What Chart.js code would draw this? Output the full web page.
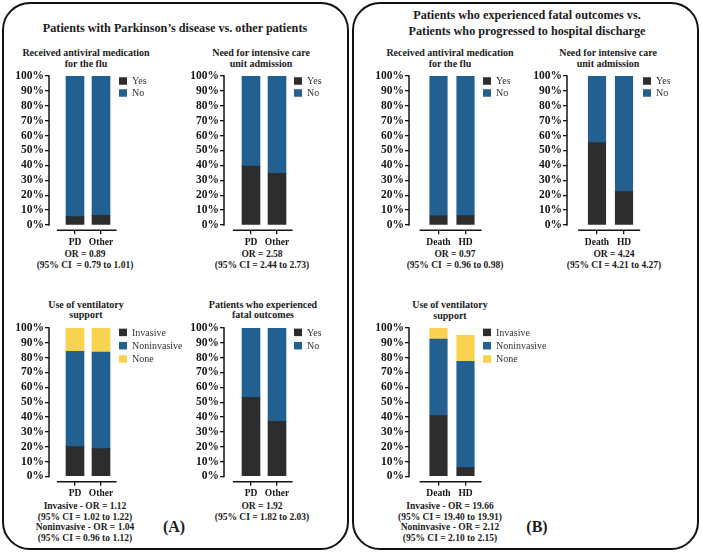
<!DOCTYPE html>
<html><head><meta charset="utf-8">
<script src="https://cdn.jsdelivr.net/npm/chart.js@4.4.1/dist/chart.umd.min.js"></script>
<style>
html,body{margin:0;padding:0;background:#fff;}
#root{position:relative;width:702px;height:554px;overflow:hidden;font-family:'Liberation Serif','Times New Roman',serif;color:#1c1c1c;}
.panel{position:absolute;border:2px solid #111;border-radius:28px;box-sizing:border-box;}
.t{position:absolute;transform:translate(-50%,-50%);white-space:nowrap;font-weight:bold;line-height:1;}
.h{font-size:12.2px;}
.s{font-size:10px;}
.o{font-size:9.5px;}
.p{font-size:16px;}
canvas{position:absolute;}
</style></head>
<body><div id="root">
<div class="panel" style="left:2px;top:2px;width:347px;height:548px"></div>
<div class="panel" style="left:352px;top:2px;width:347px;height:548px"></div>

<div class="t h" style="left:175px;top:28px">Patients with Parkinson’s disease vs. other patients</div>
<div class="t h" style="left:527px;top:15px">Patients who experienced fatal outcomes vs.</div>
<div class="t h" style="left:527px;top:31px">Patients who progressed to hospital discharge</div>

<div class="t s" style="left:86px;top:53px">Received antiviral medication</div>
<div class="t s" style="left:86px;top:63.5px">for the flu</div>
<div class="t s" style="left:261px;top:53px">Need for intensive care</div>
<div class="t s" style="left:261px;top:63.5px">unit admission</div>
<div class="t s" style="left:450px;top:53px">Received antiviral medication</div>
<div class="t s" style="left:450px;top:63.5px">for the flu</div>
<div class="t s" style="left:608px;top:53px">Need for intensive care</div>
<div class="t s" style="left:608px;top:63.5px">unit admission</div>
<div class="t s" style="left:86px;top:304.5px">Use of ventilatory</div>
<div class="t s" style="left:86px;top:314.5px">support</div>
<div class="t s" style="left:263px;top:304.5px">Patients who experienced</div>
<div class="t s" style="left:263px;top:314.5px">fatal outcomes</div>
<div class="t s" style="left:450px;top:305px">Use of ventilatory</div>
<div class="t s" style="left:450px;top:316px">support</div>

<div class="t o" style="left:85px;top:255px">OR = 0.89</div>
<div class="t o" style="left:85px;top:266px">(95% CI&nbsp; = 0.79 to 1.01)</div>
<div class="t o" style="left:262px;top:255px">OR = 2.58</div>
<div class="t o" style="left:262px;top:266px">(95% CI = 2.44 to 2.73)</div>
<div class="t o" style="left:455px;top:255px">OR = 0.97</div>
<div class="t o" style="left:455px;top:266px">(95% CI&nbsp; = 0.96 to 0.98)</div>
<div class="t o" style="left:614px;top:255px">OR = 4.24</div>
<div class="t o" style="left:614px;top:266px">(95% CI = 4.21 to 4.27)</div>

<div class="t o" style="left:85px;top:507px">Invasive - OR = 1.12</div>
<div class="t o" style="left:85px;top:517.5px">(95% CI = 1.02 to 1.22)</div>
<div class="t o" style="left:85px;top:528px">Noninvasive - OR = 1.04</div>
<div class="t o" style="left:85px;top:538.5px">(95% CI = 0.96 to 1.12)</div>
<div class="t o" style="left:262px;top:507px">OR = 1.92</div>
<div class="t o" style="left:262px;top:517.5px">(95% CI = 1.82 to 2.03)</div>
<div class="t o" style="left:450px;top:507px">Invasive - OR = 19.66</div>
<div class="t o" style="left:450px;top:517.5px">(95% CI = 19.40 to 19.91)</div>
<div class="t o" style="left:450px;top:528px">Noninvasive - OR = 2.12</div>
<div class="t o" style="left:450px;top:538.5px">(95% CI = 2.10 to 2.15)</div>

<div class="t p" style="left:174px;top:527px">(A)</div>
<div class="t p" style="left:537px;top:527px">(B)</div>
</div>
<script>
// ---------- data ----------
const groupsA = ['PD', 'Other'];
const groupsB = ['Death', 'HD'];
const yesNoLabels = ['Yes', 'No'];
const ventLabels = ['Invasive', 'Noninvasive', 'None'];
const yTickValues = [0, 10, 20, 30, 40, 50, 60, 70, 80, 90, 100];

const antiviralA_yes = [5.6, 6.5];
const antiviralA_no = [94.4, 93.5];
const icuA_yes = [39.6, 34.6];
const icuA_no = [60.4, 65.4];
const ventA_invasive = [20.1, 18.7];
const ventA_noninvasive = [64.2, 65.0];
const ventA_none = [15.7, 16.3];
const fatalA_yes = [53.2, 37.1];
const fatalA_no = [46.8, 62.9];

const antiviralB_yes = [6.2, 6.3];
const antiviralB_no = [93.8, 93.7];
const icuB_yes = [55.3, 22.4];
const icuB_no = [44.7, 77.6];
const ventB_invasive = [40.9, 5.9];
const ventB_noninvasive = [51.6, 71.7];
const ventB_none = [7.5, 17.4];

// ---------- styles ----------
const DARK = '#2d2d2d', BLUE = '#216091', YELLOW = '#f9d350';
const INK = '#141414';
const FONT = "'Liberation Serif','Times New Roman',serif";
const Y_MIN = -3.6;

const axisLines = {
  id: 'axisLines',
  afterDatasetsDraw(chart, args, o) {
    const {ctx, chartArea, scales: {x, y}} = chart;
    ctx.save();
    ctx.strokeStyle = INK;
    ctx.lineWidth = 1.5;
    ctx.beginPath();
    ctx.moveTo(chartArea.left, y.getPixelForValue(0) + 0.75);
    ctx.lineTo(chartArea.left, y.getPixelForValue(100) - 0.75);
    ctx.moveTo(x.getPixelForValue(o.from), chartArea.bottom);
    ctx.lineTo(x.getPixelForValue(o.to), chartArea.bottom);
    ctx.stroke();
    ctx.restore();
  }
};

const sideLegend = {
  id: 'sideLegend',
  afterDraw(chart, args, o) {
    const {ctx, chartArea} = chart;
    ctx.save();
    ctx.font = '10px ' + FONT;
    ctx.textBaseline = 'middle';
    ctx.textAlign = 'left';
    chart.data.datasets.forEach((ds, i) => {
      const yc = chartArea.top + o.top + i * o.gap;
      ctx.fillStyle = ds.backgroundColor;
      ctx.fillRect(o.x, yc - 3.75, 8, 7.5);
      ctx.fillStyle = '#333';
      ctx.fillText(ds.label, o.x + 13, yc + 0.5);
    });
    ctx.restore();
  }
};

const specs = [
  {axisX: 49,  yTop: 76,    y0: 225,   c0: 75,    unit: 26, cats: groupsA, names: yesNoLabels, series: [antiviralA_yes, antiviralA_no], colors: [DARK, BLUE], legendX: 119, legendTop: 5, legendGap: 12, bar: 18},
  {axisX: 224, yTop: 76,    y0: 225,   c0: 251,   unit: 26, cats: groupsA, names: yesNoLabels, series: [icuA_yes, icuA_no], colors: [DARK, BLUE], legendX: 294, legendTop: 5, legendGap: 12, bar: 18},
  {axisX: 49,  yTop: 328.3, y0: 476.7, c0: 75,    unit: 26, cats: groupsA, names: ventLabels, series: [ventA_invasive, ventA_noninvasive, ventA_none], colors: [DARK, BLUE, YELLOW], legendX: 119, legendTop: 4.4, legendGap: 13.3, bar: 18},
  {axisX: 224, yTop: 328.3, y0: 476.7, c0: 251,   unit: 26, cats: groupsA, names: yesNoLabels, series: [fatalA_yes, fatalA_no], colors: [DARK, BLUE], legendX: 294, legendTop: 4.4, legendGap: 13.3, bar: 18},
  {axisX: 409, yTop: 76,    y0: 225,   c0: 438.5, unit: 27, cats: groupsB, names: yesNoLabels, series: [antiviralB_yes, antiviralB_no], colors: [DARK, BLUE], legendX: 483, legendTop: 5, legendGap: 12, bar: 17.5},
  {axisX: 567, yTop: 76,    y0: 225,   c0: 597,   unit: 27, cats: groupsB, names: yesNoLabels, series: [icuB_yes, icuB_no], colors: [DARK, BLUE], legendX: 643, legendTop: 5, legendGap: 12, bar: 17.5},
  {axisX: 409, yTop: 328.3, y0: 476.7, c0: 438.5, unit: 27, cats: groupsB, names: ventLabels, series: [ventB_invasive, ventB_noninvasive, ventB_none], colors: [DARK, BLUE, YELLOW], legendX: 483, legendTop: 4.4, legendGap: 13.3, bar: 17.5}
];

const root = document.getElementById('root');
const X_MAX = 1.7;

specs.forEach(sp => {
  const ppp = (sp.y0 - sp.yTop) / 100;
  const bottom = sp.y0 + (-Y_MIN) * ppp;
  const cl = sp.axisX - 48, ct = sp.yTop - 12, cw = 200;
  const ch = Math.round(bottom + 26 - ct);
  const cv = document.createElement('canvas');
  cv.width = cw; cv.height = ch;
  cv.style.left = cl + 'px'; cv.style.top = ct + 'px';
  root.appendChild(cv);
  const xMin = -(sp.c0 - sp.axisX) / sp.unit;
  const right = sp.c0 + X_MAX * sp.unit;

  new Chart(cv, {
    type: 'bar',
    data: {
      datasets: sp.names.map((nm, k) => ({
        label: nm,
        data: sp.series[k].map((v, i) => ({x: i, y: v})),
        backgroundColor: sp.colors[k],
        borderWidth: 0,
        barThickness: sp.bar
      }))
    },
    options: {
      responsive: false,
      animation: false,
      devicePixelRatio: 1,
      layout: {padding: {left: sp.axisX - 40 - cl, top: sp.yTop - ct, right: cl + cw - right, bottom: ct + ch - bottom - 20}},
      plugins: {
        legend: {display: false},
        tooltip: {enabled: false},
        axisLines: {from: -0.7, to: 1.6},
        sideLegend: {x: sp.legendX - cl, top: sp.legendTop, gap: sp.legendGap}
      },
      scales: {
        x: {
          type: 'linear', stacked: true, min: xMin, max: X_MAX, offset: false,
          afterFit: s => { s.height = 20; },
          afterBuildTicks: s => { s.ticks = sp.cats.map((c, i) => ({value: i})); },
          ticks: {callback: v => sp.cats[v], autoSkip: false, maxRotation: 0, padding: 2,
                  color: INK, font: {family: FONT, size: 9.5, weight: 'bold'}},
          grid: {offset: false, drawOnChartArea: false, drawTicks: true, tickLength: 4, color: INK, lineWidth: 1.3},
          border: {display: false}
        },
        y: {
          type: 'linear', stacked: true, min: Y_MIN, max: 100,
          afterFit: s => { s.width = 40; },
          afterBuildTicks: s => { s.ticks = yTickValues.map(v => ({value: v})); },
          ticks: {callback: v => v + '%', padding: 1, color: INK, autoSkip: false,
                  font: {family: FONT, size: 11.5, weight: 'bold'}},
          grid: {drawOnChartArea: false, drawTicks: true, tickLength: 4, color: INK, lineWidth: 1.3},
          border: {display: false}
        }
      }
    },
    plugins: [axisLines, sideLegend]
  });
});
</script>
</body></html>
